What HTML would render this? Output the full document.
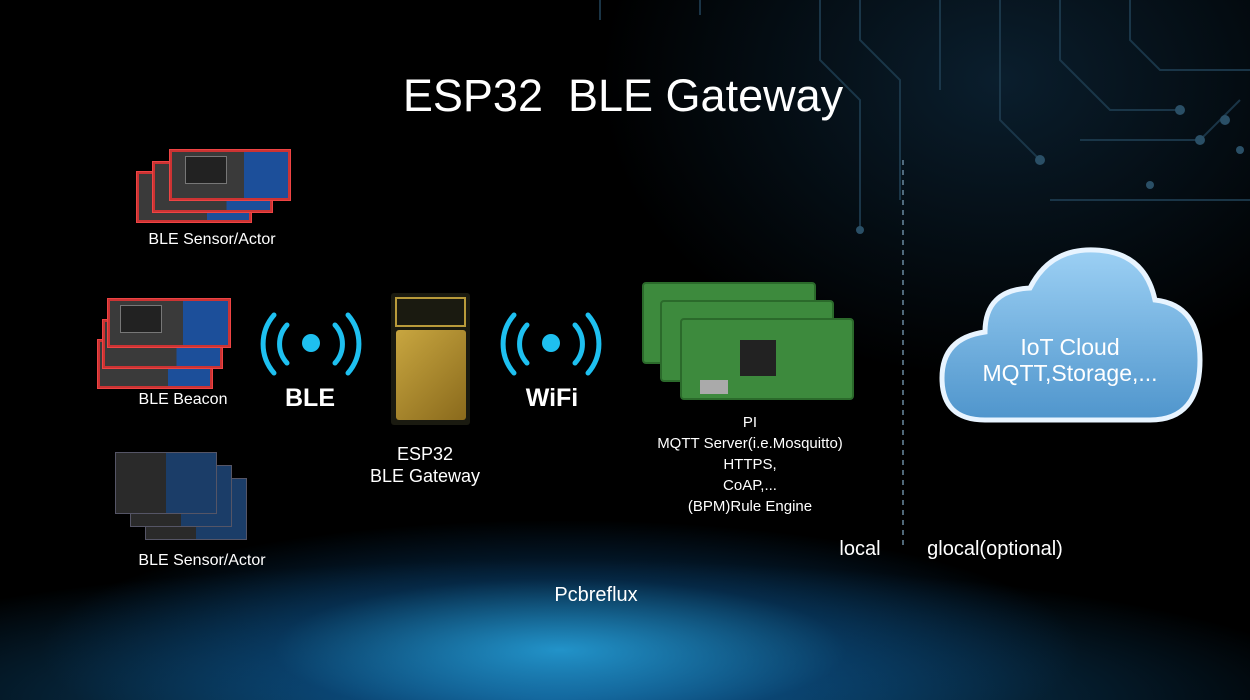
<!DOCTYPE html>
<html><head><meta charset="utf-8"><style>
html,body{margin:0;padding:0}
body{width:1250px;height:700px;position:relative;overflow:hidden;background:#000;font-family:"Liberation Sans",sans-serif;color:#fff}
.abs{position:absolute}
.t{position:absolute;text-align:center;white-space:nowrap}
.bg{position:absolute;left:0;top:0;width:1250px;height:700px;
background:
radial-gradient(ellipse 520px 130px at 560px 650px, rgba(40,170,230,0.8), rgba(10,80,140,0.4) 55%, rgba(0,0,0,0) 100%),
radial-gradient(ellipse 800px 140px at 550px 700px, rgba(20,120,190,0.7), rgba(0,0,0,0) 100%),
radial-gradient(ellipse 400px 300px at 1000px 80px, rgba(20,60,90,0.5), rgba(0,0,0,0) 100%),
#000}
.board{position:absolute;border:2px solid #c33;background:linear-gradient(90deg,#3a3a3a 0 62%,#1c4f9a 62% 100%);box-shadow:0 0 0 1px #e44}
.chip{position:absolute;background:#222;border:1px solid #777}
.dark{position:absolute;background:linear-gradient(90deg,#2a2a2a 0 50%,#1b3d68 50% 100%);border:1px solid #556}
.pi{position:absolute;background:#3d8a3d;border:2px solid #2b6a2b;border-radius:4px}
</style></head><body>
<div class="bg"></div>
<svg class="abs" style="left:0;top:0" width="1250" height="700">
<g stroke="#1d3a4d" stroke-width="2" fill="none" opacity="0.9">
<path d="M820 0 V60 L860 100 V230"/><path d="M860 0 V40 L900 80 V200"/><path d="M940 0 V90"/><path d="M1000 0 V120 L1040 160"/>
<path d="M1060 0 V60 L1110 110 H1180"/><path d="M1130 0 V40 L1160 70 H1250"/><path d="M1080 140 H1200 L1240 100"/>
<path d="M1050 200 H1250"/><path d="M600 0 V20"/><path d="M700 0 V15"/>
</g>
<g fill="#2a4f66"><circle cx="1180" cy="110" r="5"/><circle cx="1200" cy="140" r="5"/><circle cx="1040" cy="160" r="5"/><circle cx="860" cy="230" r="4"/><circle cx="1225" cy="120" r="5"/><circle cx="1240" cy="150" r="4"/><circle cx="1150" cy="185" r="4"/></g>
<line x1="903" y1="160" x2="903" y2="545" stroke="#6a8aa0" stroke-width="1.5" stroke-dasharray="5,5"/>
<g stroke="#1ec0f0" stroke-width="5" fill="none" stroke-linecap="round">
<path d="M287 325 a28 28 0 0 0 0 38"/><path d="M274 315 a44 44 0 0 0 0 58"/>
<path d="M335 325 a28 28 0 0 1 0 38"/><path d="M348 315 a44 44 0 0 1 0 58"/>
<path d="M527 325 a28 28 0 0 0 0 38"/><path d="M514 315 a44 44 0 0 0 0 58"/>
<path d="M575 325 a28 28 0 0 1 0 38"/><path d="M588 315 a44 44 0 0 1 0 58"/>
</g>
<circle cx="311" cy="343" r="9" fill="#1ec0f0"/><circle cx="551" cy="343" r="9" fill="#1ec0f0"/>
<defs><linearGradient id="cg" x1="0" y1="0" x2="0" y2="1"><stop offset="0" stop-color="#9cd0f4"/><stop offset="1" stop-color="#4f95cc"/></linearGradient></defs>
<path d="M985 420 Q942 420 942 378 Q942 338 985 332 Q985 290 1030 288 Q1050 248 1095 250 Q1145 252 1155 300 Q1200 305 1200 360 Q1200 420 1150 420 Z" fill="url(#cg)" stroke="#e8f4ff" stroke-width="5"/>
</svg>
<div class="board" style="left:137px;top:172px;width:110px;height:46px"></div>
<div class="board" style="left:153px;top:162px;width:115px;height:46px"></div>
<div class="board" style="left:170px;top:150px;width:116px;height:46px"></div>
<div class="chip" style="left:185px;top:156px;width:40px;height:26px"></div>
<div class="board" style="left:98px;top:340px;width:110px;height:44px"></div>
<div class="board" style="left:103px;top:320px;width:115px;height:44px"></div>
<div class="board" style="left:108px;top:299px;width:118px;height:44px"></div>
<div class="chip" style="left:120px;top:305px;width:40px;height:26px"></div>
<div class="dark" style="left:145px;top:478px;width:100px;height:60px"></div>
<div class="dark" style="left:130px;top:465px;width:100px;height:60px"></div>
<div class="dark" style="left:115px;top:452px;width:100px;height:60px"></div>
<div class="abs" style="left:391px;top:293px;width:79px;height:132px;background:#1a1a10;border-radius:3px"></div>
<div class="abs" style="left:395px;top:297px;width:71px;height:30px;border:2px solid #b89a3a;box-sizing:border-box"></div>
<div class="abs" style="left:396px;top:330px;width:70px;height:90px;background:linear-gradient(135deg,#c8a640,#8a6a1c);border-radius:3px"></div>
<div class="pi" style="left:642px;top:282px;width:170px;height:78px"></div>
<div class="pi" style="left:660px;top:300px;width:170px;height:78px"></div>
<div class="pi" style="left:680px;top:318px;width:170px;height:78px"></div>
<div class="abs" style="left:740px;top:340px;width:36px;height:36px;background:#222"></div>
<div class="abs" style="left:700px;top:380px;width:28px;height:14px;background:#aaa"></div>
<div class="t" style="left:0;width:1246px;top:70px;font-size:45px">ESP32&nbsp; BLE Gateway</div>
<div class="t" style="left:112px;width:200px;top:231px;font-size:16px">BLE Sensor/Actor</div>
<div class="t" style="left:83px;width:200px;top:391px;font-size:16px">BLE Beacon</div>
<div class="t" style="left:102px;width:200px;top:552px;font-size:16px">BLE Sensor/Actor</div>
<div class="t" style="left:260px;width:100px;top:384px;font-size:25px;font-weight:bold">BLE</div>
<div class="t" style="left:502px;width:100px;top:384px;font-size:25px;font-weight:bold">WiFi</div>
<div class="t" style="left:345px;width:160px;top:443px;font-size:18px;line-height:22px">ESP32<br>BLE Gateway</div>
<div class="t" style="left:630px;width:240px;top:412px;font-size:15px;line-height:21px">PI<br>MQTT Server(i.e.Mosquitto)<br>HTTPS,<br>CoAP,...<br>(BPM)Rule Engine</div>
<div class="t" style="left:960px;width:220px;top:334px;font-size:23px;line-height:26px">IoT Cloud<br>MQTT,Storage,...</div>
<div class="t" style="left:830px;width:60px;top:538px;font-size:20px">local</div>
<div class="t" style="left:910px;width:170px;top:538px;font-size:20px">glocal(optional)</div>
<div class="t" style="left:496px;width:200px;top:584px;font-size:20px">Pcbreflux</div>
</body></html>
